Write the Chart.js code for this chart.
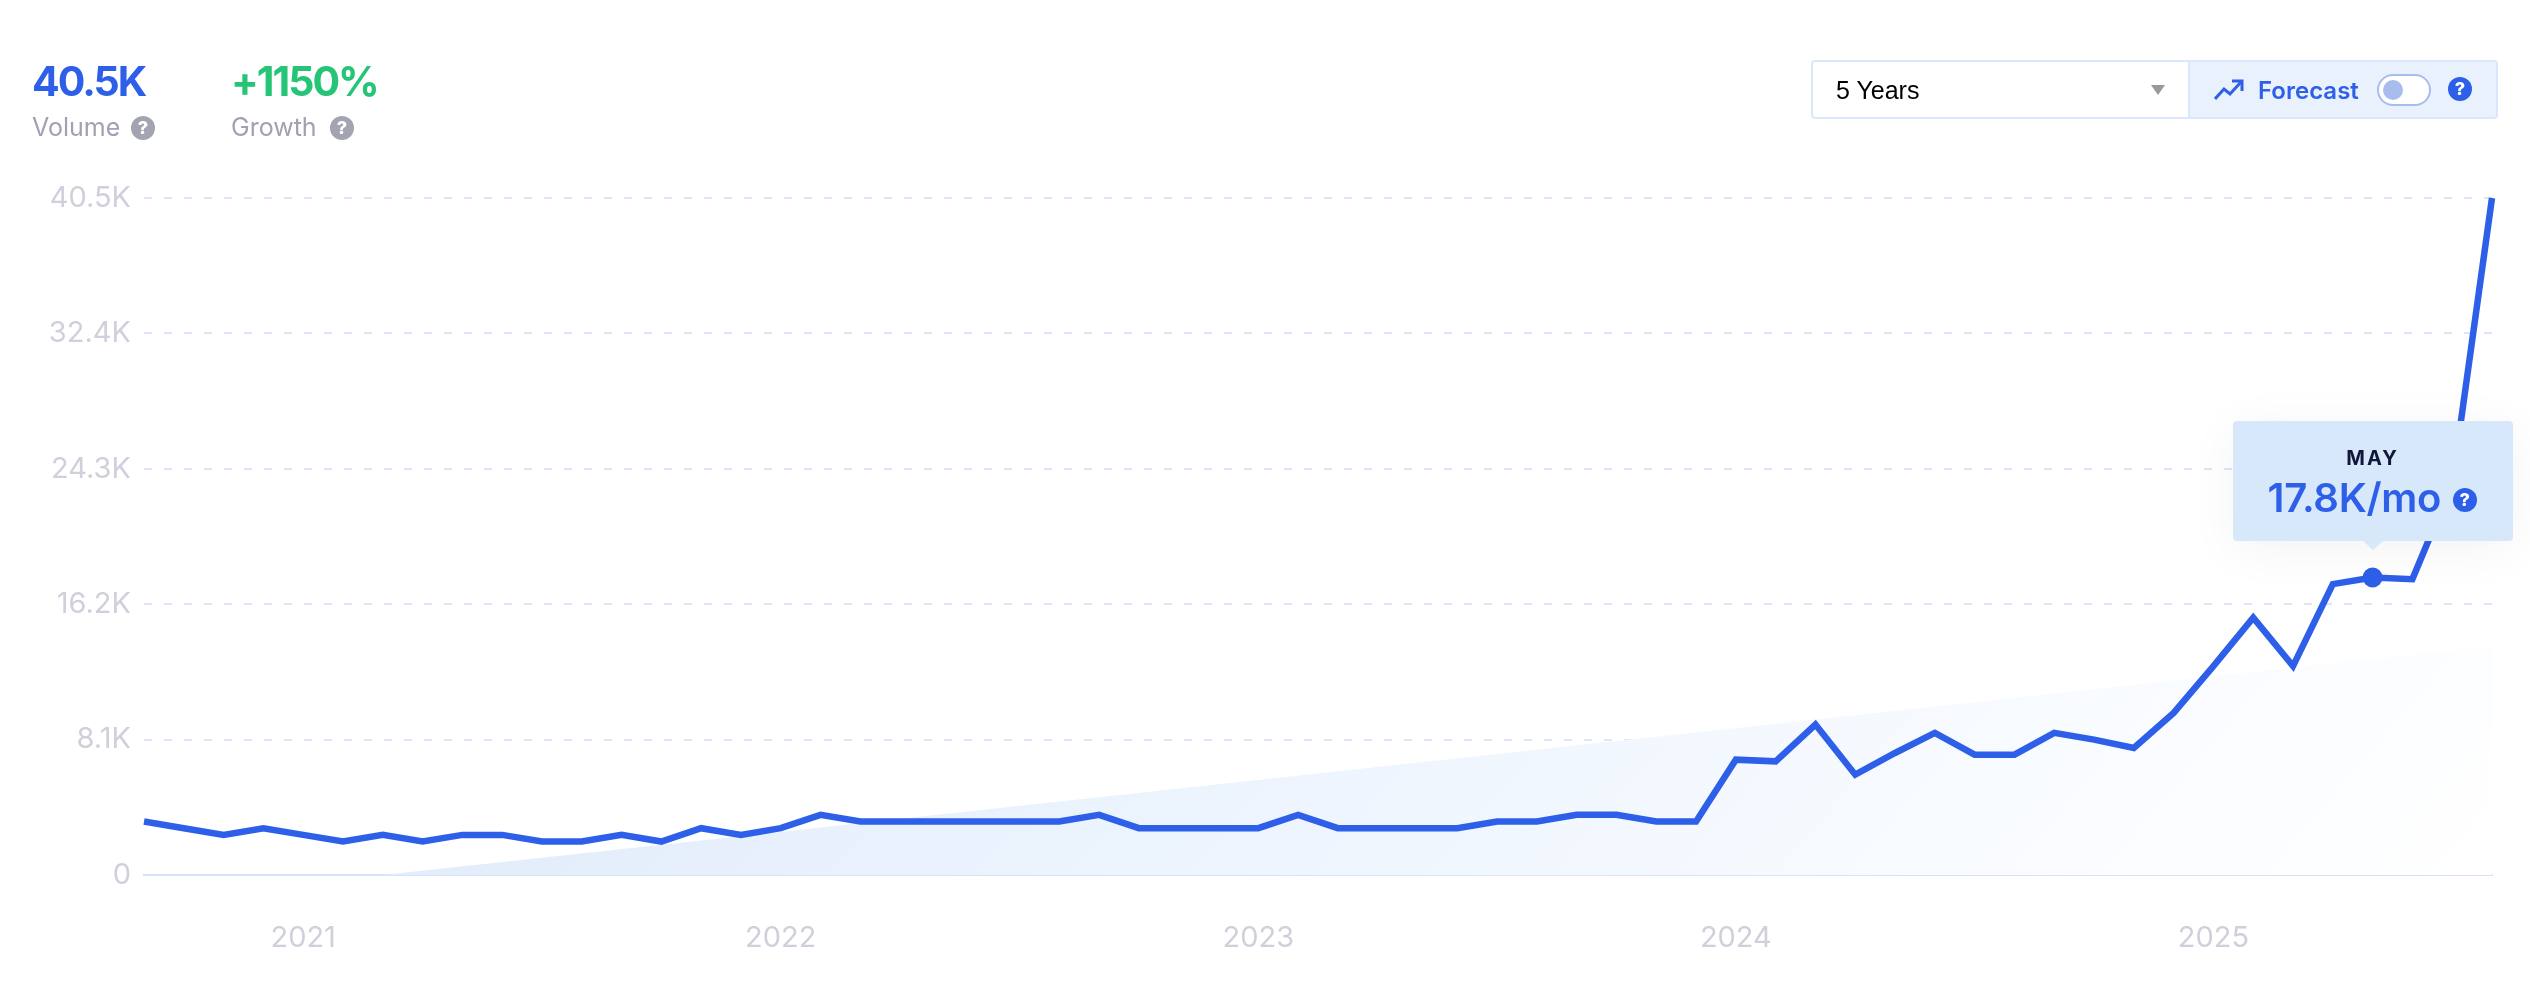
<!DOCTYPE html>
<html>
<head>
<meta charset="utf-8">
<title>Volume chart</title>
<script src="https://cdn.jsdelivr.net/npm/chart.js@4"></script>
<style>
    html, body { margin: 0; padding: 0; background: #fff; }
    body { width: 2530px; height: 988px; position: relative; overflow: hidden; font-family: Inter, sans-serif; }
    #chartWrap { position: absolute; left: 0; top: 0; width: 2530px; height: 988px; }
    .abs { position: absolute; white-space: nowrap; line-height: 1; }
    .big { font-size: 41px; font-weight: 700; top: 61px; letter-spacing: -2px; }
    .sub { font-size: 25px; color: #a0a1b2; top: 115px; }
    .help { position: absolute; width: 24px; height: 24px; border-radius: 50%; color: #fff; font-size: 18px; font-weight: 800; line-height: 24px; text-align: center; }
    .help.gray { background: #a3a4b2; }
    .help.blue { background: #2e5fe8; }

    #controls { position: absolute; left: 1811px; top: 60px; width: 687px; height: 59px; box-sizing: border-box; border: 2px solid #dbe7fc; border-radius: 4px; }
    #forecast { position: absolute; left: 375px; top: 0; right: 0; bottom: 0; background: #e9f1fd; border-left: 2px solid #dbe7fc; }
    #caret { position: absolute; left: 338px; top: 23px; width: 0; height: 0; border-left: 7px solid transparent; border-right: 7px solid transparent; border-top: 10px solid #999; }
    #toggle { position: absolute; left: 2377px; top: 74px; width: 54px; height: 32px; box-sizing: border-box; border: 2px solid #a8bcee; border-radius: 16px; background: #fff; }
    #knob { position: absolute; left: 4px; top: 4px; width: 20px; height: 20px; border-radius: 50%; background: #a8bcee; }

    #tip { position: absolute; width: 280px; height: 120px; background: #d7e8fb; border-radius: 4px; box-shadow: 0 8px 50px rgba(0,0,0,0.05); }
    #tip:after { content: ""; position: absolute; left: 130px; top: 120px; width: 0; height: 0; border-left: 10px solid transparent; border-right: 10px solid transparent; border-top: 9px solid #d7e8fb; }
</style>
</head>
<body>

<div id="chartWrap"><canvas id="volumeChart" width="2530" height="988"></canvas></div>

<div class="abs big" style="left:32px;color:#2e5fe8">40.5K</div>
<div class="abs sub" style="left:32px">Volume</div>
<div class="help gray" style="left:131px;top:116px">?</div>
<div class="abs big" style="left:231px;color:#26c476">+1150%</div>
<div class="abs sub" style="left:231px">Growth</div>
<div class="help gray" style="left:330px;top:116px">?</div>

<div id="controls">
    <div class="abs" style="left:23px;top:14px;font:25px 'Liberation Sans',sans-serif;color:#000">5 Years</div>
    <div id="caret"></div>
    <div id="forecast"></div>
</div>
<svg class="abs" style="left:2214px;top:78px" width="30" height="24" viewBox="0 0 30 24" fill="none" stroke="#2e5fe8" stroke-width="3">
    <path d="M1 21 L10 11 L16 16 L27 4"/><path d="M18 3 H28 V13"/>
</svg>
<div class="abs" style="left:2258px;top:79px;font-size:24px;font-weight:600;color:#2e5fe8">Forecast</div>
<div id="toggle"><div id="knob"></div></div>
<div class="help blue" style="left:2448px;top:77px">?</div>

<div id="tip">
    <div class="abs" style="left:0;right:0;top:27px;text-align:center;font-size:20px;font-weight:700;letter-spacing:2px;color:#12173a">MAY</div>
    <div class="abs" style="left:35px;top:57px;font-size:40px;font-weight:600;letter-spacing:-0.3px;color:#2e5fe8">17.8K/mo</div>
    <div class="help blue" style="left:220px;top:67px">?</div>
</div>

<script>
// months, Sep 2020 -> Aug 2025
const months = [
    "Sep 2020","Oct 2020","Nov 2020","Dec 2020",
    "Jan 2021","Feb 2021","Mar 2021","Apr 2021","May 2021","Jun 2021","Jul 2021","Aug 2021","Sep 2021","Oct 2021","Nov 2021","Dec 2021",
    "Jan 2022","Feb 2022","Mar 2022","Apr 2022","May 2022","Jun 2022","Jul 2022","Aug 2022","Sep 2022","Oct 2022","Nov 2022","Dec 2022",
    "Jan 2023","Feb 2023","Mar 2023","Apr 2023","May 2023","Jun 2023","Jul 2023","Aug 2023","Sep 2023","Oct 2023","Nov 2023","Dec 2023",
    "Jan 2024","Feb 2024","Mar 2024","Apr 2024","May 2024","Jun 2024","Jul 2024","Aug 2024","Sep 2024","Oct 2024","Nov 2024","Dec 2024",
    "Jan 2025","Feb 2025","Mar 2025","Apr 2025","May 2025","Jun 2025","Jul 2025","Aug 2025"
];

const volume = [
    3200, 2800, 2400, 2800,
    2400, 2000, 2400, 2000, 2400, 2400, 2000, 2000, 2400, 2000, 2800, 2400,
    2800, 3600, 3200, 3200, 3200, 3200, 3200, 3200, 3600, 2800, 2800, 2800,
    2800, 3600, 2800, 2800, 2800, 2800, 3200, 3200, 3600, 3600, 3200, 3200,
    6900, 6800, 9000, 6000, 7300, 8500, 7200, 7200, 8500, 8100, 7600, 9700,
    12500, 15400, 12500, 17400, 17800, 17700, 23400, 40500
];

// background trend wedge, only its two ends are known
const trend = [
    null, null, null, null, null, null, 0, null,
    null, null, null, null, null, null, null, null, null, null, null, null,
    null, null, null, null, null, null, null, null, null, null, null, null,
    null, null, null, null, null, null, null, null, null, null, null, null,
    null, null, null, null, null, null, null, null, null, null, null, null,
    null, null, null, 13700
];

const yTickValues = [0, 8100, 16200, 24300, 32400, 40500];
const yTickLabels = ["0", "8.1K", "16.2K", "24.3K", "32.4K", "40.5K"];

const markerIndex = 56;

const trendFill = (ctx) => {
    const area = ctx.chart.chartArea;
    if (!area) return "#eaf2fd";
    // fades towards the lower right corner
    const g = ctx.chart.ctx.createLinearGradient(area.left, area.top, area.left + 1690, area.top + 1445);
    g.addColorStop(0.25, "#e1ecfa");
    g.addColorStop(0.58, "#eef5fe");
    g.addColorStop(0.8, "#f8fbff");
    g.addColorStop(1, "#ffffff");
    return g;
};

const chart = new Chart(document.getElementById("volumeChart"), {
    type: "line",
    data: {
        labels: months,
        datasets: [
            {
                data: volume,
                borderColor: "#2e5fe8",
                backgroundColor: "#2e5fe8",
                borderWidth: 6.5,
                tension: 0,
                clip: false,
                pointBorderWidth: 0,
                pointRadius: (c) => c.dataIndex === markerIndex ? 10 : 0,
                order: 1
            },
            {
                data: trend,
                spanGaps: true,
                borderWidth: 0,
                pointRadius: 0,
                fill: "origin",
                backgroundColor: trendFill,
                tension: 0,
                order: 2
            }
        ]
    },
    options: {
        responsive: false,
        animation: false,
        layout: { padding: { top: 198, right: 38, left: 0, bottom: 0 } },
        plugins: { legend: { display: false }, tooltip: { enabled: false } },
        scales: {
            x: {
                offset: false,
                grid: { display: false },
                border: { display: true, color: "#d6e4fb", width: 2 },
                afterFit: (s) => { s.height = 113; },
                ticks: {
                    autoSkip: false,
                    maxRotation: 0,
                    padding: 38,
                    color: "#cfd0db",
                    font: { family: "Inter", size: 29, weight: "400" },
                    callback: function (v) {
                        const m = this.getLabelForValue(v);
                        return m.startsWith("Jan") ? m.slice(4) : null;
                    }
                }
            },
            y: {
                min: 0,
                max: 40500,
                afterFit: (s) => { s.width = 144; },
                afterBuildTicks: (s) => { s.ticks = yTickValues.map((v) => ({ value: v })); },
                grid: {
                    color: (c) => c.tick.value === 0 ? "rgba(0,0,0,0)" : "#dbe6fd",
                    lineWidth: 2,
                    drawTicks: false
                },
                border: { display: false, dash: [8, 12] },
                ticks: {
                    padding: 13,
                    color: "#cfd0db",
                    font: { family: "Inter", size: 29, weight: "400" },
                    callback: (v) => yTickLabels[yTickValues.indexOf(v)]
                }
            }
        }
    }
});

// tooltip card sits over the marker
const tip = document.getElementById("tip");
const px = chart.scales.x.getPixelForValue(markerIndex);
const py = chart.scales.y.getPixelForValue(volume[markerIndex]);
tip.style.left = (px - 140) + "px";
tip.style.top = (py - 156) + "px";
</script>
</body>
</html>
